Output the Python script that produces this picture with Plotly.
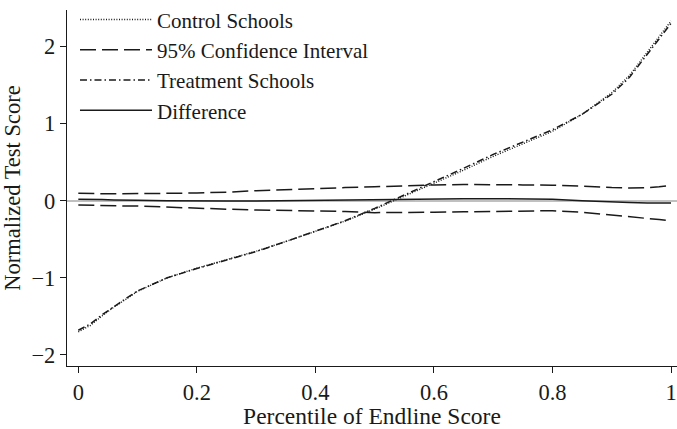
import plotly.graph_objects as go

pct = [0, 0.02, 0.04, 0.06, 0.08, 0.10, 0.15, 0.20, 0.25, 0.30, 0.35, 0.40, 0.45,
       0.50, 0.55, 0.60, 0.65, 0.70, 0.75, 0.80, 0.85, 0.90, 0.93, 0.96, 0.98, 1.00]
treatment = [-1.68, -1.60, -1.48, -1.37, -1.27, -1.17, -1.00, -0.88, -0.77, -0.66, -0.53, -0.40, -0.26,
             -0.10, 0.07, 0.24, 0.42, 0.60, 0.76, 0.92, 1.12, 1.38, 1.60, 1.90, 2.10, 2.30]
difference = [0.02, 0.02, 0.015, 0.01, 0.01, 0.005, 0.0, -0.005, -0.005, -0.005, 0.0, 0.0, 0.005,
              0.01, 0.015, 0.02, 0.025, 0.025, 0.025, 0.02, 0.0, -0.02, -0.025, -0.03, -0.03, -0.03]
control = [t - d for t, d in zip(treatment, difference)]
ci_upper = [0.095, 0.09, 0.09, 0.09, 0.09, 0.09, 0.095, 0.10, 0.11, 0.13, 0.145, 0.16, 0.17,
            0.18, 0.195, 0.205, 0.21, 0.21, 0.205, 0.20, 0.19, 0.17, 0.165, 0.17, 0.18, 0.20]
ci_lower = [-0.055, -0.06, -0.065, -0.065, -0.07, -0.07, -0.085, -0.10, -0.11, -0.12, -0.125, -0.13, -0.14,
            -0.155, -0.155, -0.15, -0.145, -0.14, -0.135, -0.13, -0.15, -0.19, -0.21, -0.23, -0.245, -0.26]

x_ticks = [0, 0.2, 0.4, 0.6, 0.8, 1]
x_tick_labels = ["0", "0.2", "0.4", "0.6", "0.8", "1"]
y_ticks = [-2, -1, 0, 1, 2]
y_tick_labels = ["\u22122", "\u22121", "0", "1", "2"]

INK = "#1a1a1a"
FONT = "Liberation Serif"

fig = go.Figure()
fig.add_trace(go.Scatter(x=pct, y=control, mode="lines", name="Control Schools",
                         line=dict(color=INK, width=1.4, dash="1px,1.6px")))
fig.add_trace(go.Scatter(x=pct, y=ci_upper, mode="lines", name="95% Confidence Interval",
                         line=dict(color=INK, width=1.5, dash="16px,6px")))
fig.add_trace(go.Scatter(x=pct, y=ci_lower, mode="lines", name="95% CI lower", showlegend=False,
                         line=dict(color=INK, width=1.5, dash="16px,6px")))
fig.add_trace(go.Scatter(x=pct, y=treatment, mode="lines", name="Treatment Schools",
                         line=dict(color=INK, width=1.5, dash="7px,3px,1.5px,3px")))
fig.add_trace(go.Scatter(x=pct, y=difference, mode="lines", name="Difference",
                         line=dict(color=INK, width=1.5)))

fig.update_layout(
    width=677, height=429,
    margin=dict(l=67, r=0, t=10, b=63, autoexpand=False),
    paper_bgcolor="white", plot_bgcolor="white",
    font=dict(family=FONT, size=23, color=INK),
    showlegend=True,
    legend=dict(x=0.0131, y=1.03, xanchor="left", yanchor="top",
                bgcolor="rgba(0,0,0,0)", font=dict(family=FONT, size=21, color=INK),
                itemwidth=72, tracegroupgap=0),
    xaxis=dict(range=[-0.0191, 1.0101], tickvals=x_ticks, ticktext=x_tick_labels,
               showgrid=False, zeroline=False, showline=True, linecolor=INK, linewidth=1.3,
               ticks="outside", ticklen=6, tickwidth=1.3, tickcolor=INK, automargin=False,
               ticklabeloverflow="allow",
               title=dict(text="Percentile of Endline Score", standoff=8, font=dict(size=23.5)),
               tickfont=dict(size=22.5)),
    yaxis=dict(range=[-2.144, 2.473], tickvals=y_ticks, ticktext=y_tick_labels,
               showgrid=False, zeroline=True, zerolinecolor="#c0c0c0", zerolinewidth=2,
               showline=True, linecolor=INK, linewidth=1.3, automargin=False,
               ticks="outside", ticklen=6, tickwidth=1.3, tickcolor=INK,
               title=dict(text="Normalized Test Score", standoff=7, font=dict(size=22.5)),
               tickfont=dict(size=22.5)),
)

# remove the browser's default 8px page margin so the figure fills the window exactly
fig.write_html("out.html", config={"displayModeBar": False},
               post_script="document.body.style.margin='0px';")
